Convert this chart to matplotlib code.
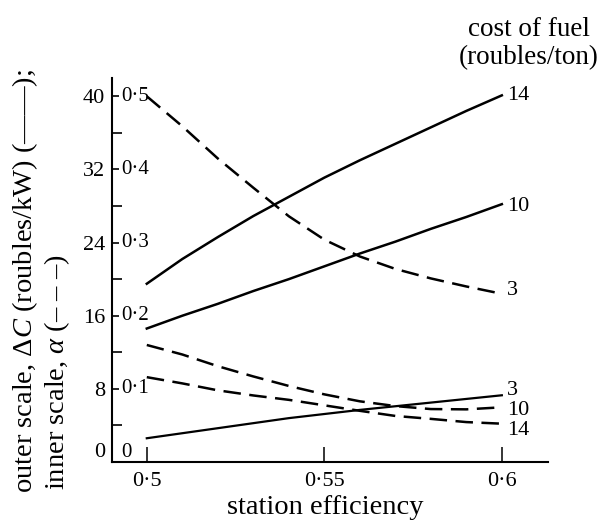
import matplotlib
matplotlib.use("Agg")
import matplotlib.pyplot as plt
from matplotlib.ticker import FixedLocator
import matplotlib.transforms as mtransforms

plt.rcParams['font.family'] = ['Liberation Serif', 'DejaVu Serif']
plt.rcParams['mathtext.fontset'] = 'custom'
plt.rcParams['mathtext.rm'] = 'Liberation Serif'
plt.rcParams['mathtext.it'] = 'Liberation Serif:italic'

# ---- data ----
efficiency = [0.50, 0.51, 0.52, 0.53, 0.54, 0.55, 0.56, 0.57, 0.58, 0.59, 0.60]
# outer scale: delta C (roubles/kW), solid lines
dC_14 = [19.5, 22.2, 24.6, 26.9, 29.0, 31.1, 33.0, 34.8, 36.6, 38.4, 40.1]
dC_10 = [14.6, 16.0, 17.3, 18.7, 20.0, 21.4, 22.8, 24.1, 25.5, 26.8, 28.2]
dC_3 = [2.6, 3.15, 3.7, 4.25, 4.8, 5.25, 5.7, 6.1, 6.5, 6.9, 7.3]
# inner scale: alpha, dashed lines
alpha_3 = [0.500, 0.459, 0.415, 0.375, 0.336, 0.304, 0.281, 0.264, 0.251, 0.240, 0.230]
alpha_10 = [0.160, 0.147, 0.131, 0.117, 0.104, 0.0925, 0.083, 0.0765, 0.0724, 0.072, 0.0748]
alpha_14 = [0.116, 0.1075, 0.098, 0.091, 0.085, 0.0775, 0.070, 0.063, 0.059, 0.0546, 0.0524]

fuel_costs = ["14", "10", "3"]
outer_ticks = [0, 8, 16, 24, 32, 40]
outer_minor = [4, 12, 20, 28, 36]
inner_labels = ["0", "0·1", "0·2", "0·3", "0·4", "0·5"]
x_ticks = [0.5, 0.55, 0.6]
x_ticklabels = ["0·5", "0·55", "0·6"]
ratio = 80.0  # outer units per unit alpha

fig = plt.figure(figsize=(6.08, 5.21), dpi=100)
ax = fig.add_axes([0.1842, 0.1132, 0.9013 - 0.1842, 0.8503 - 0.1132])
ax2 = ax.twinx()
ax2.set_position(ax.get_position())

ymax = 42.0
ax.set_xlim(0.4902, 0.6130)
ax.set_ylim(0, ymax)
ax2.set_ylim(0, ymax / ratio)

for s in ['top', 'right']:
    ax.spines[s].set_visible(False)
for s in ax2.spines.values():
    s.set_visible(False)
ax2.set_yticks([])
ax.spines['left'].set_linewidth(1.5)
ax.spines['bottom'].set_linewidth(1.5)

lw = 1.8
ax.plot(efficiency, dC_14, color='black', lw=lw)
ax.plot(efficiency, dC_10, color='black', lw=lw)
ax.plot(efficiency, dC_3, color='black', lw=1.6)

dash_kw = dict(color='black', lw=lw, linestyle=(0, (7.0, 3.4)), dash_capstyle='butt')
ax2.plot(efficiency, alpha_3, **dash_kw)
ax2.plot(efficiency, alpha_10, **dash_kw)
ax2.plot(efficiency, alpha_14, **dash_kw)

# ticks
ax.xaxis.set_major_locator(FixedLocator(x_ticks))
ax.set_xticklabels(x_ticklabels)
ax.tick_params(axis='x', direction='in', length=11, width=1.1, pad=7, labelsize=16)
ax.yaxis.set_major_locator(FixedLocator(outer_ticks))
ax.yaxis.set_minor_locator(FixedLocator(outer_minor))
ax.set_yticklabels([str(v) for v in outer_ticks])
ax.tick_params(axis='y', which='major', direction='in', length=5, width=1.2, pad=5, labelsize=16)
ax.tick_params(axis='y', which='minor', direction='in', length=7, width=1.2)
ax.get_yticklabels()[0].set_va('bottom')

# inner scale labels
trans_in = mtransforms.blended_transform_factory(ax.transAxes, ax.transData) + \
    mtransforms.ScaledTranslation(7 / 72, 0, fig.dpi_scale_trans)
for v, lab in zip(outer_ticks, inner_labels):
    ax.text(0, v, lab, transform=trans_in, ha='left',
            va='bottom' if v == 0 else 'center', fontsize=15)

# end labels
def end_label(axis, yval, text, dy_px):
    axis.annotate(text, xy=(efficiency[-1], yval), xytext=(4, dy_px * 0.72),
                  textcoords='offset points', ha='left', va='center', fontsize=16)

end_label(ax, dC_14[-1], fuel_costs[0], 0)
end_label(ax, dC_10[-1], fuel_costs[1], -2)
end_label(ax, dC_3[-1], fuel_costs[2], 5)
end_label(ax2, alpha_3[-1], fuel_costs[2], 3)
end_label(ax2, alpha_10[-1], fuel_costs[1], -3)
end_label(ax2, alpha_14[-1], fuel_costs[0], -7)

ax.set_xlabel("station efficiency", fontsize=20.5, va='center')
ax.xaxis.set_label_coords((325.5 - 112) / 436, (462 - 507) / 384)

fig.text(529 / 608, 1 - 29 / 521, "cost of fuel", ha='center', va='center', fontsize=19.5)
fig.text(529 / 608, 1 - 58 / 521, "(roubles/ton)", ha='center', va='center', fontsize=19.5)

fig.text(25 / 608, 1 - 493 / 521, r"outer scale, $\Delta C$ (roubles/kW) (——);",
         rotation=90, ha='center', va='bottom', fontsize=20.5)
fig.text(57 / 608, 1 - 490 / 521, r"inner scale, $\alpha$ (– – –)",
         rotation=90, ha='center', va='bottom', fontsize=20.5)

fig.savefig("out.png", dpi=100)
